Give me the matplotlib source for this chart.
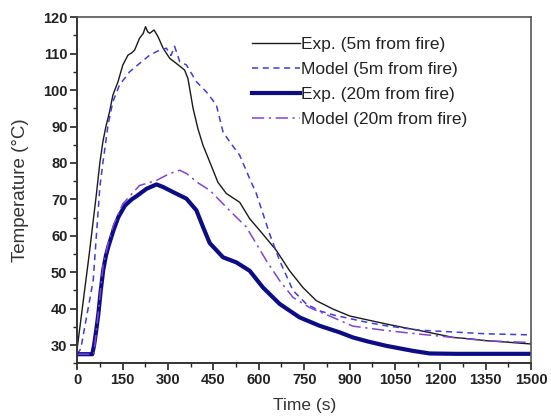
import matplotlib
matplotlib.use("Agg")
import matplotlib.pyplot as plt
from matplotlib.ticker import MultipleLocator

plt.rcParams['font.family'] = ['Liberation Sans', 'DejaVu Sans']

# Exp. 5m from fire
t_exp5 = [0, 20, 40, 63, 75, 85, 95, 107, 118, 135, 151, 168, 180, 190, 206, 218, 226,
          233, 240, 254, 267, 284, 306, 328, 355, 366, 383, 399, 416, 438, 465, 493,
          537, 570, 603, 658, 702, 746, 790, 845, 900, 960, 1021, 1080, 1131, 1190,
          1242, 1300, 1352, 1420, 1500]
T_exp5 = [29, 42, 55, 71, 80, 85.8, 90, 94, 98.6, 102.3, 106.9, 109.6, 110.2, 111, 114.2,
          115.5, 117.4, 116, 115.6, 116.5, 114.7, 111.5, 108.7, 107.3, 105.5, 103.2, 95,
          89.4, 84.8, 80.3, 74.7, 71.6, 69.2, 64.7, 61.5, 56, 50.4, 45.8, 42.2, 39.9, 38,
          36.9, 35.8, 34.8, 34, 33, 32.1, 31.7, 31.2, 30.8, 30.3]

# Model 5m from fire
t_mod5 = [0, 12, 53, 75, 85, 95, 102, 118, 140, 173, 206, 240, 273, 295, 310, 322, 339,
          361, 394, 427, 460, 482, 504, 537, 570, 592, 636, 669, 713, 757, 801, 850, 911,
          960, 1021, 1131, 1242, 1350, 1500]
T_mod5 = [27.5, 29, 47.7, 73.4, 80, 86, 90.4, 96.8, 101.4, 105, 107.3, 109.6, 111, 111.5,
          109.5, 112, 107.8, 106.9, 102.3, 99.5, 95.9, 88.5, 85.8, 82.1, 75.7, 71.6, 60.5,
          53.2, 45, 41.3, 39.4, 38.2, 37.1, 36.2, 35.3, 34.1, 33.6, 33.1, 32.8]

# Exp. 20m from fire
t_exp20 = [0, 50, 56, 63, 70, 78, 86, 95, 103, 120, 136, 158, 180, 195, 229, 262, 284, 317,
           361, 394, 416, 438, 482, 526, 570, 614, 669, 735, 801, 867, 911, 960, 1021, 1110,
           1165, 1250, 1350, 1500]
T_exp20 = [27.5, 27.5, 30, 34, 38.5, 45, 50.5, 54.5, 57, 61.5, 65.1, 68.3, 70, 70.8, 72.9,
           74.1, 73.4, 72, 70.2, 67, 62.4, 58, 54.1, 52.7, 50.4, 45.8, 41.3, 37.6, 35.3, 33.5,
           32.1, 31, 29.8, 28.4, 27.7, 27.6, 27.6, 27.6]

# Model 20m from fire
t_mod20 = [0, 55, 70, 86, 103, 120, 151, 206, 262, 306, 339, 361, 400, 438, 471, 515, 559,
           592, 625, 669, 713, 768, 845, 911, 1021, 1131, 1242, 1350, 1500]
T_mod20 = [27.5, 27.5, 39, 52, 58, 63, 68.8, 73.8, 75.2, 77.1, 78, 77.1, 74.5, 72.5, 69.7,
           66, 62.4, 57.8, 53.2, 47.7, 43.1, 40.3, 37.6, 35.2, 34, 33, 32.1, 31.2, 30.7]

x_ticks = [0, 150, 300, 450, 600, 750, 900, 1050, 1200, 1350, 1500]
y_ticks = [30, 40, 50, 60, 70, 80, 90, 100, 110, 120]

fig = plt.figure(figsize=(5.51, 4.20), dpi=100)
ax = fig.add_axes([0.140, 0.135, 0.824, 0.824])

ax.plot(t_exp5, T_exp5, color='#1a1a1a', lw=1.0, label='Exp. (5m from fire)')
ax.plot(t_mod5, T_mod5, color='#3c3ce0', lw=1.1, ls=(0, (4, 3)), label='Model (5m from fire)')
ax.plot(t_exp20, T_exp20, color='#0c0c86', lw=3.0, label='Exp. (20m from fire)')
ax.plot(t_mod20, T_mod20, color='#8044d8', lw=1.1, ls=(0, (8, 3, 1.5, 3)),
        label='Model (20m from fire)')

ax.set_xlim(0, 1500)
ax.set_ylim(25, 120)
ax.set_xticks(x_ticks)
ax.set_yticks(y_ticks)
ax.xaxis.set_minor_locator(MultipleLocator(75))
ax.yaxis.set_minor_locator(MultipleLocator(5))
ax.tick_params(which='major', direction='out', length=5, width=1.2, colors='#222222',
               labelsize=10.5, top=False, right=False, pad=2)
ax.tick_params(which='minor', direction='out', length=3, width=1.0, colors='#222222',
               top=False, right=False)
for lab in ax.get_xticklabels() + ax.get_yticklabels():
    lab.set_fontweight('bold')

for side in ['left', 'bottom']:
    ax.spines[side].set_linewidth(1.4)
    ax.spines[side].set_color('#333333')
for side in ['top', 'right']:
    ax.spines[side].set_linewidth(1.2)
    ax.spines[side].set_color('#555555')

ax.set_xlabel('Time (s)', fontsize=12.5, color='#333333', labelpad=8)
ax.set_ylabel('Temperature (°C)', fontsize=13.5, color='#333333', labelpad=10)

leg = ax.legend(loc='upper left', bbox_to_anchor=(0.385, 0.942), frameon=False,
                fontsize=12.5, handlelength=2.75, handletextpad=0.1, labelspacing=0.56,
                borderaxespad=0, borderpad=0)
for txt in leg.get_texts():
    txt.set_color('#222222')

fig.savefig('out.png', dpi=100)
